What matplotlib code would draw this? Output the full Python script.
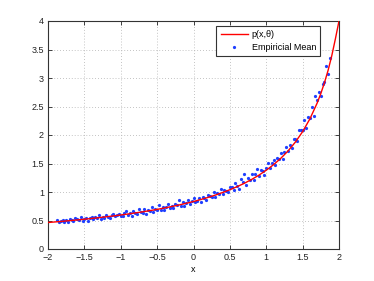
import matplotlib
matplotlib.use("Agg")
import matplotlib.pyplot as plt

plt.rcParams['font.family'] = ['Liberation Sans', 'DejaVu Sans']

# Model curve p(x, theta)
curve_x = [-2.0, -1.9, -1.8, -1.7, -1.6, -1.5, -1.4, -1.3, -1.2, -1.1, -1.0,
           -0.9, -0.8, -0.7, -0.6, -0.5, -0.4, -0.3, -0.2, -0.1, 0.0,
           0.1, 0.2, 0.3, 0.4, 0.5, 0.6, 0.7, 0.8, 0.9, 1.0,
           1.1, 1.2, 1.3, 1.4, 1.5, 1.6, 1.7, 1.75, 1.8, 1.85, 1.9, 1.95, 2.0]
curve_y = [0.465, 0.475, 0.486, 0.498, 0.510, 0.522, 0.536, 0.550, 0.565, 0.580, 0.597,
           0.614, 0.633, 0.652, 0.673, 0.695, 0.719, 0.745, 0.772, 0.802, 0.833,
           0.868, 0.905, 0.946, 0.991, 1.040, 1.094, 1.154, 1.221, 1.296, 1.382,
           1.479, 1.591, 1.721, 1.875, 2.059, 2.283, 2.561, 2.727, 2.917, 3.134, 3.387, 3.684, 4.0]

# Empirical mean points
emp_x = [-1.875, -1.85, -1.825, -1.8, -1.775, -1.75, -1.725, -1.7, -1.675, -1.65,
         -1.625, -1.6, -1.575, -1.55, -1.525, -1.5, -1.475, -1.45, -1.425, -1.4,
         -1.375, -1.35, -1.325, -1.3, -1.275, -1.25, -1.225, -1.2, -1.175, -1.15,
         -1.125, -1.1, -1.075, -1.05, -1.025, -1.0,
         -0.975, -0.95, -0.925, -0.9, -0.875, -0.85, -0.825, -0.8, -0.775, -0.75,
         -0.725, -0.7, -0.675, -0.65, -0.625, -0.6, -0.575, -0.55, -0.525, -0.5,
         -0.475, -0.45, -0.425, -0.4, -0.375, -0.35, -0.325, -0.3, -0.275, -0.25,
         -0.225, -0.2, -0.175, -0.15, -0.125, -0.1, -0.075, -0.05, -0.025, 0.0,
         0.025, 0.05, 0.075, 0.1, 0.125, 0.15, 0.175, 0.2, 0.225, 0.25,
         0.275, 0.3, 0.325, 0.35, 0.375, 0.4, 0.425, 0.45, 0.475, 0.5,
         0.525, 0.55, 0.575, 0.6, 0.625, 0.65, 0.675, 0.7, 0.725, 0.75,
         0.775, 0.8, 0.825, 0.85, 0.875, 0.9, 0.925, 0.95, 0.975, 1.0,
         1.025, 1.05, 1.075, 1.1, 1.125, 1.15, 1.175, 1.2, 1.225, 1.25,
         1.275, 1.3, 1.325, 1.35, 1.375, 1.4, 1.425, 1.45, 1.475, 1.5,
         1.525, 1.55, 1.575, 1.6, 1.625, 1.65, 1.675, 1.7, 1.725, 1.75,
         1.775, 1.8, 1.825, 1.85, 1.875]
emp_y = [0.508, 0.470, 0.483, 0.506, 0.469, 0.502, 0.465, 0.518, 0.501, 0.484,
         0.537, 0.520, 0.503, 0.556, 0.499, 0.522, 0.546, 0.499, 0.542, 0.566,
         0.529, 0.563, 0.546, 0.600, 0.533, 0.567, 0.551, 0.595, 0.568, 0.552,
         0.596, 0.620, 0.574, 0.598, 0.622, 0.577,
         0.571, 0.625, 0.660, 0.594, 0.629, 0.583, 0.658, 0.633, 0.607, 0.702,
         0.657, 0.632, 0.697, 0.613, 0.688, 0.673, 0.729, 0.654, 0.700, 0.685,
         0.771, 0.687, 0.743, 0.679, 0.745, 0.782, 0.728, 0.755, 0.721, 0.798,
         0.765, 0.852, 0.759, 0.817, 0.754, 0.812, 0.859, 0.787, 0.845, 0.893,
         0.822, 0.850, 0.899, 0.818, 0.907, 0.896, 0.866, 0.955, 0.935, 0.915,
         0.995, 0.906, 0.987, 0.968, 1.049, 0.961, 1.042, 1.025, 1.007, 1.090,
         1.093, 1.036, 1.160, 1.114, 1.058, 1.223, 1.168, 1.314, 1.130, 1.246,
         1.213, 1.311, 1.209, 1.308, 1.397, 1.276, 1.387, 1.368, 1.299, 1.422,
         1.505, 1.419, 1.503, 1.559, 1.465, 1.593, 1.581, 1.681, 1.572, 1.694,
         1.797, 1.721, 1.827, 1.765, 1.934, 1.925, 1.898, 2.093, 2.090, 2.089,
         2.271, 2.115, 2.312, 2.303, 2.486, 2.334, 2.685, 2.621, 2.762, 2.687,
         2.899, 2.937, 3.202, 3.074, 3.356]

x_ticks = [-2, -1.5, -1, -0.5, 0, 0.5, 1, 1.5, 2]
x_tick_labels = ['\u22122', '\u22121.5', '\u22121', '\u22120.5', '0', '0.5', '1', '1.5', '2']
y_ticks = [0, 0.5, 1, 1.5, 2, 2.5, 3, 3.5, 4]
y_tick_labels = ['0', '0.5', '1', '1.5', '2', '2.5', '3', '3.5', '4']

fig = plt.figure(figsize=(3.74, 2.81), dpi=100)
ax = fig.add_axes([48/374, 1 - 249/281, (339 - 48)/374, (249 - 21)/281])

ax.plot(curve_x, curve_y, color='red', lw=1.0, label='p(x,\u03b8)', zorder=3)
ax.plot(emp_x, emp_y, linestyle='none', marker='.', markersize=2.6,
        color='#1f3fff', label='Empiricial Mean', zorder=2)

ax.set_xlim(-2, 2)
ax.set_ylim(0, 4)
ax.set_xticks(x_ticks)
ax.set_xticklabels(x_tick_labels)
ax.set_yticks(y_ticks)
ax.set_yticklabels(y_tick_labels)
ax.tick_params(direction='in', length=3, width=0.6, labelsize=6.5, pad=3,
               top=True, right=True, colors='#222222')
ax.grid(True, linestyle=(0, (1, 2.5)), color='#b0b0b0', linewidth=0.6)
ax.set_axisbelow(True)
for s in ax.spines.values():
    s.set_linewidth(0.8)
    s.set_color('#333333')

ax.set_xlabel('x', fontsize=6.5, labelpad=2)

leg = ax.legend(loc='upper right', fontsize=6.5, frameon=True, fancybox=False,
                edgecolor='#333333', framealpha=1, borderpad=0.45,
                handlelength=3.0, handletextpad=0.45, labelspacing=0.45,
                borderaxespad=0.0, bbox_to_anchor=(0.935, 0.978))
leg.get_frame().set_linewidth(0.8)

fig.savefig('out.png', dpi=100)
